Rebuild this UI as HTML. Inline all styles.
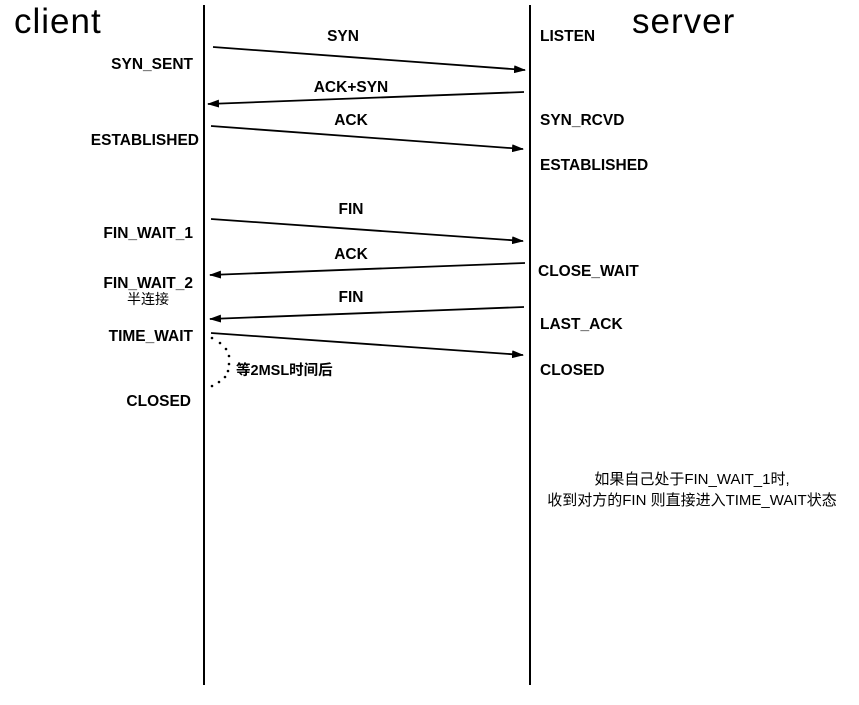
<!DOCTYPE html>
<html><head><meta charset="utf-8"><style>
html,body{margin:0;padding:0;background:#fff;}
svg{display:block}
text{font-family:"Liberation Sans","Noto Sans CJK SC",sans-serif;fill:#000}
.b{font-weight:bold;font-size:15.5px}
</style></head><body>
<svg width="859" height="705" viewBox="0 0 859 705">
<defs><marker id="a" markerWidth="12" markerHeight="8" refX="11" refY="4" orient="auto" markerUnits="userSpaceOnUse"><path d="M0,0 L12,4 L0,8 z" fill="#000"/></marker></defs>
<line x1="204" y1="5" x2="204" y2="685" stroke="#000" stroke-width="2"/>
<line x1="530" y1="5" x2="530" y2="685" stroke="#000" stroke-width="2"/>
<text x="14" y="33" font-size="35" letter-spacing="1">client</text>
<text x="632" y="33" font-size="35" letter-spacing="1">server</text>
<g stroke="#000" stroke-width="1.8" marker-end="url(#a)">
<line x1="213" y1="47" x2="525" y2="70"/>
<line x1="524" y1="92" x2="208" y2="104"/>
<line x1="211" y1="126" x2="523" y2="149"/>
<line x1="211" y1="219" x2="523" y2="241"/>
<line x1="525" y1="263" x2="210" y2="275"/>
<line x1="524" y1="307" x2="210" y2="319"/>
<line x1="211" y1="333" x2="523" y2="355"/>
</g>
<g text-anchor="middle">
<text x="343" y="41" class="b">SYN</text>
<text x="351" y="92" class="b">ACK+SYN</text>
<text x="351" y="125" class="b">ACK</text>
<text x="351" y="214" class="b">FIN</text>
<text x="351" y="259" class="b">ACK</text>
<text x="351" y="302" class="b">FIN</text>
</g>
<g text-anchor="end">
<text x="193" y="69" class="b">SYN_SENT</text>
<text x="199" y="145" class="b">ESTABLISHED</text>
<text x="193" y="238" class="b">FIN_WAIT_1</text>
<text x="193" y="288" class="b">FIN_WAIT_2</text>
<text x="193" y="341" class="b">TIME_WAIT</text>
<text x="191" y="406" class="b">CLOSED</text>
</g>
<text x="148" y="304" font-size="14" text-anchor="middle">半连接</text>
<text x="540" y="41" class="b">LISTEN</text>
<text x="540" y="125" class="b">SYN_RCVD</text>
<text x="540" y="170" class="b">ESTABLISHED</text>
<text x="538" y="276" class="b">CLOSE_WAIT</text>
<text x="540" y="329" class="b">LAST_ACK</text>
<text x="540" y="375" class="b">CLOSED</text>
<g fill="#000">
<circle cx="212" cy="338" r="1.3"/><circle cx="220" cy="343" r="1.3"/><circle cx="226" cy="349" r="1.3"/>
<circle cx="229" cy="356" r="1.3"/><circle cx="229" cy="364" r="1.3"/><circle cx="228" cy="371" r="1.3"/>
<circle cx="225" cy="377" r="1.3"/><circle cx="219" cy="382" r="1.3"/><circle cx="212" cy="386" r="1.3"/>
</g>
<text x="236" y="375" font-size="14.5" font-weight="bold">等2MSL时间后</text>
<text x="692" y="484" font-size="15" text-anchor="middle">如果自己处于FIN_WAIT_1时,</text>
<text x="692" y="505" font-size="15" text-anchor="middle">收到对方的FIN 则直接进入TIME_WAIT状态</text>
</svg>
</body></html>
